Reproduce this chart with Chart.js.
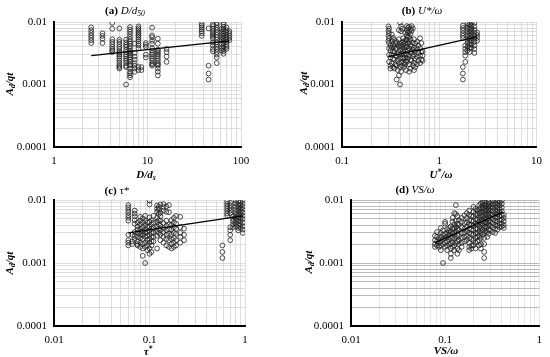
<!DOCTYPE html>
<html>
<head>
<meta charset="utf-8">
<script src="https://cdn.jsdelivr.net/npm/chart.js@4.4.0/dist/chart.umd.min.js"></script>
<style>
  body { margin: 0; background: #fff; width: 550px; height: 357px; position: relative; overflow: hidden; font-family: 'Liberation Serif', serif; }
  canvas { position: absolute; }
  .lbl { position: absolute; transform: translate(-50%, -50%); white-space: nowrap; font-size: 11px; color: #000; line-height: 1; }
  .ylbl { transform: translate(-50%, -50%) rotate(-90deg); font-weight: bold; font-style: italic; }
  .xlbl { font-weight: bold; font-style: italic; }
  sub { font-size: 70%; vertical-align: -2px; line-height: 0; }
  sup { font-size: 70%; vertical-align: 4px; line-height: 0; }
</style>
</head>
<body>
<canvas id="ca" width="275" height="178" style="left:0;top:0"></canvas>
<canvas id="cb" width="275" height="178" style="left:275px;top:0"></canvas>
<canvas id="cc" width="275" height="179" style="left:0;top:178px"></canvas>
<canvas id="cd" width="275" height="179" style="left:275px;top:178px"></canvas>

<div class="lbl" style="left:125px;top:10px"><b>(a)</b> <i>D/d<sub>50</sub></i></div>
<div class="lbl" style="left:422px;top:10px"><b>(b)</b> <i>U*/ω</i></div>
<div class="lbl" style="left:117px;top:190px"><b>(c)</b> τ*</div>
<div class="lbl" style="left:415px;top:189px"><b>(d)</b> <i>VS/ω</i></div>

<div class="lbl xlbl" style="left:146px;top:174px">D/d<sub>s</sub></div>
<div class="lbl xlbl" style="left:441px;top:174px">U<sup>*</sup>/ω</div>
<div class="lbl xlbl" style="left:148px;top:351px">τ<sup>*</sup></div>
<div class="lbl xlbl" style="left:446px;top:350px">VS/ω</div>

<div class="lbl ylbl" style="left:9px;top:84px">A<sub>d</sub>/qt</div>
<div class="lbl ylbl" style="left:303px;top:83px">A<sub>d</sub>/qt</div>
<div class="lbl ylbl" style="left:9px;top:263px">A<sub>d</sub>/qt</div>
<div class="lbl ylbl" style="left:308px;top:262px">A<sub>d</sub>/qt</div>

<script>
'use strict';

// labelled decades on each axis
const ticksY = [0.0001, 0.001, 0.01];
const ticksXa = [1, 10, 100];
const ticksXb = [0.1, 1, 10];
const ticksXc = [0.01, 0.1, 1];
const ticksXd = [0.01, 0.1, 1];

// columns of points: [x, [y, y, ...]]
const dataA = [
    [2.5, [0.0082, 0.0074, 0.0067, 0.0061, 0.0056, 0.0051, 0.0046]],
    [3.3, [0.0066, 0.006, 0.0054, 0.0046]],
    [4.2, [0.0097, 0.0078, 0.0053, 0.0048, 0.0044, 0.004, 0.0037, 0.0035, 0.0033]],
    [5.0, [0.0079, 0.0052, 0.0048, 0.0044, 0.004, 0.0037, 0.0034, 0.0032, 0.003, 0.0028, 0.0026, 0.0024, 0.0022, 0.002, 0.0019, 0.0018]],
    [5.9, [0.0052, 0.0047, 0.0043, 0.004, 0.0036, 0.0033, 0.003, 0.0028, 0.0026, 0.0024, 0.0022, 0.002, 0.0019, 0.001]],
    [6.5, [0.0083, 0.0076, 0.007, 0.0064, 0.0058, 0.0053, 0.0049, 0.0045, 0.0041, 0.0038, 0.0035, 0.0033, 0.0031, 0.0029, 0.0027, 0.0025, 0.0023, 0.0021, 0.002, 0.0018, 0.0016, 0.0015, 0.0014, 0.0013]],
    [7.3, [0.0045, 0.0032, 0.0028, 0.0025, 0.0022, 0.002, 0.0018, 0.0016]],
    [8.0, [0.0085, 0.0079, 0.0074, 0.0069, 0.0065, 0.0061, 0.0057, 0.0053, 0.0049, 0.0045, 0.0042, 0.0038, 0.0019, 0.0017]],
    [8.6, [0.0019, 0.0017]],
    [9.6, [0.0046, 0.0043, 0.004, 0.003, 0.0027]],
    [11.2, [0.0081, 0.0061, 0.0057, 0.005, 0.0045, 0.0038, 0.0035, 0.0032, 0.003, 0.0028, 0.0026, 0.0024, 0.0022, 0.0021, 0.002]],
    [12.9, [0.0054, 0.0045, 0.0036, 0.0034, 0.0032, 0.003, 0.0028, 0.0026, 0.0024, 0.0022, 0.0021, 0.002, 0.0018, 0.0016, 0.0014]],
    [16, [0.0037, 0.0033, 0.0028, 0.0023]],
    [38, [0.0094, 0.0088, 0.0082, 0.0076, 0.0071, 0.0066, 0.006]],
    [45, [0.0079, 0.002, 0.0015, 0.0012]],
    [50, [0.0092, 0.0086, 0.0078, 0.0071, 0.0066, 0.0062, 0.0058, 0.0054, 0.0047, 0.0042, 0.0037, 0.0034]],
    [55, [0.0096, 0.009, 0.0082, 0.0075, 0.0068, 0.0062, 0.0057, 0.0052, 0.0047, 0.0043, 0.004, 0.0037, 0.0033, 0.003, 0.0027, 0.0022]],
    [62, [0.0077, 0.0069, 0.0062, 0.0056, 0.0051, 0.0045, 0.0038, 0.0035]],
    [65, [0.0098, 0.0091, 0.0084, 0.0077, 0.0071, 0.0065, 0.006, 0.0055, 0.005, 0.0046, 0.0041, 0.0037, 0.0034, 0.0031]],
    [70, [0.0082, 0.0074, 0.0068, 0.0062, 0.0057, 0.0052, 0.0048, 0.0043, 0.004, 0.0037]],
    [75, [0.0071, 0.0066, 0.0061, 0.0056, 0.0051]]
];

const dataB = [
    [0.300, [0.0085, 0.0072, 0.006, 0.005]],
    [0.305, [0.0078, 0.0066, 0.0055, 0.0046, 0.0038, 0.003, 0.0023]],
    [0.315, [0.0042, 0.0035, 0.0027, 0.002, 0.0018]],
    [0.325, [0.0063, 0.005, 0.0039, 0.003, 0.0022]],
    [0.335, [0.0056, 0.0044, 0.0034, 0.0026, 0.0019]],
    [0.345, [0.0052, 0.0041, 0.0033, 0.0025, 0.0018]],
    [0.355, [0.0046, 0.0037, 0.0029, 0.0021]],
    [0.365, [0.0048, 0.0038, 0.0028, 0.002, 0.0012]],
    [0.375, [0.0043, 0.0032, 0.0024, 0.0017]],
    [0.385, [0.0074, 0.0053, 0.004, 0.003, 0.0022, 0.0014]],
    [0.395, [0.0098, 0.0045, 0.0035, 0.0026, 0.0019, 0.001]],
    [0.405, [0.0085, 0.0071, 0.0042, 0.0031, 0.0023, 0.0016]],
    [0.415, [0.0078, 0.0047, 0.0037, 0.0027, 0.002]],
    [0.425, [0.0055, 0.0044, 0.0034, 0.0026]],
    [0.435, [0.0049, 0.0039, 0.003, 0.0022, 0.0019]],
    [0.445, [0.0068, 0.0046, 0.0036, 0.0027, 0.0021]],
    [0.455, [0.0052, 0.004, 0.0031, 0.0024, 0.0017]],
    [0.465, [0.0086, 0.0074, 0.0062, 0.0051, 0.004, 0.003, 0.0023]],
    [0.475, [0.008, 0.0068, 0.0057, 0.0045, 0.0035, 0.0026]],
    [0.49, [0.0084, 0.007, 0.0058, 0.0048, 0.0038, 0.0029, 0.0021, 0.0016]],
    [0.505, [0.0077, 0.0064, 0.0053, 0.0043, 0.0033, 0.0025, 0.0018]],
    [0.52, [0.0086, 0.0072, 0.0041, 0.0032, 0.0024]],
    [0.535, [0.0079, 0.0047, 0.0036, 0.0028, 0.002]],
    [0.55, [0.0053, 0.0039, 0.003, 0.0022, 0.0017]],
    [0.565, [0.0045, 0.0034, 0.0026, 0.0019]],
    [0.59, [0.0048, 0.0037, 0.0028, 0.0021]],
    [0.61, [0.0042, 0.0032, 0.0024]],
    [0.635, [0.0055, 0.0038, 0.0029, 0.0022]],
    [0.655, [0.0046, 0.0033, 0.0025]],
    [0.675, [0.0034, 0.0029, 0.0024]],
    [1.75, [0.0088, 0.008, 0.0073, 0.0066, 0.006, 0.0055, 0.0019, 0.0015, 0.0012]],
    [1.85, [0.0042, 0.0037, 0.0033, 0.0029, 0.0023]],
    [1.95, [0.0095, 0.0086, 0.0078, 0.0071, 0.0064, 0.0058, 0.0052, 0.0046, 0.004, 0.0035]],
    [2.05, [0.0092, 0.0083, 0.0075, 0.0067, 0.006, 0.0054, 0.0048, 0.0043, 0.0038, 0.0033]],
    [2.15, [0.0098, 0.0088, 0.0079, 0.0071, 0.0063, 0.0056, 0.005, 0.0044, 0.0039]],
    [2.3, [0.0097, 0.0085, 0.0075, 0.0067, 0.006, 0.0054, 0.0048, 0.0042, 0.0037, 0.0032]],
    [2.45, [0.0068, 0.0062, 0.0056, 0.005]]
];

const dataC = [
    [0.060, [0.0083, 0.0076, 0.0069, 0.0063, 0.0057, 0.0052, 0.0047, 0.0028, 0.0023, 0.0021, 0.0019]],
    [0.066, [0.0028, 0.0022, 0.002]],
    [0.070, [0.0068, 0.0061, 0.0055, 0.0048, 0.0042, 0.0031, 0.0027, 0.0024]],
    [0.075, [0.0044, 0.0038, 0.0034, 0.003, 0.0026, 0.0022, 0.002, 0.0019]],
    [0.080, [0.0054, 0.0047, 0.0041, 0.0035, 0.0031, 0.0028, 0.0025, 0.0021, 0.0018]],
    [0.085, [0.0051, 0.0044, 0.0037, 0.0032, 0.0028, 0.0024, 0.002, 0.0017, 0.0013]],
    [0.090, [0.0056, 0.0047, 0.004, 0.0034, 0.003, 0.0026, 0.0021, 0.0018, 0.001]],
    [0.095, [0.0044, 0.0037, 0.0031, 0.0027, 0.0023, 0.0019, 0.0016]],
    [0.100, [0.0098, 0.0085, 0.0053, 0.0045, 0.0038, 0.0033, 0.0028, 0.0024, 0.0021, 0.0017, 0.0014]],
    [0.105, [0.0048, 0.0041, 0.0035, 0.003, 0.0026, 0.0022, 0.0019, 0.0015]],
    [0.110, [0.0056, 0.0044, 0.0036, 0.0031, 0.0026, 0.0022]],
    [0.120, [0.0082, 0.0073, 0.0065, 0.0052, 0.0045, 0.0038, 0.0032, 0.0027, 0.0017]],
    [0.125, [0.0078, 0.007, 0.006, 0.0048, 0.0041, 0.0035, 0.003]],
    [0.130, [0.0085, 0.0063, 0.0055, 0.0047, 0.0039, 0.0033, 0.0028, 0.0023]],
    [0.140, [0.0086, 0.0077, 0.0068, 0.0043, 0.0036, 0.0031, 0.0026, 0.0021]],
    [0.150, [0.0079, 0.0065, 0.0047, 0.0039, 0.0033, 0.0028, 0.0024, 0.0019]],
    [0.160, [0.0083, 0.0064, 0.0041, 0.0034, 0.0029, 0.0023, 0.0018]],
    [0.170, [0.0048, 0.004, 0.0034, 0.0028, 0.0024, 0.002, 0.0017]],
    [0.180, [0.0052, 0.0044, 0.0037, 0.003, 0.0025, 0.0021, 0.0018]],
    [0.190, [0.0056, 0.0042, 0.0035, 0.0029, 0.0023, 0.0019]],
    [0.210, [0.0054, 0.0037, 0.003, 0.0026, 0.0021]],
    [0.230, [0.0035, 0.0028, 0.0023]],
    [0.58, [0.0019, 0.0015, 0.0012]],
    [0.65, [0.0095, 0.0087, 0.008, 0.0073, 0.0067, 0.0061, 0.0056]],
    [0.70, [0.009, 0.0082, 0.0075, 0.0068, 0.0062, 0.0037, 0.0033, 0.0028, 0.0023]],
    [0.75, [0.0055, 0.005, 0.0046, 0.0041, 0.0037]],
    [0.80, [0.0098, 0.0088, 0.0079, 0.0071, 0.0064, 0.0058, 0.0052, 0.0047, 0.0042, 0.0038]],
    [0.85, [0.0095, 0.0085, 0.0076, 0.0068, 0.0061, 0.0055, 0.005, 0.0045, 0.004, 0.0036, 0.0033]],
    [0.90, [0.0093, 0.0082, 0.0073, 0.0065, 0.0058, 0.0052, 0.0046, 0.0041, 0.0036]],
    [0.95, [0.0097, 0.0087, 0.0078, 0.007, 0.0063, 0.0056, 0.005, 0.0044, 0.0038, 0.0034, 0.003]]
];

const dataD = [
    [0.078, [0.0027, 0.0023, 0.002, 0.0018]],
    [0.082, [0.0031, 0.0026, 0.0022, 0.0019]],
    [0.086, [0.0024, 0.0021, 0.0018]],
    [0.090, [0.0036, 0.003, 0.0026, 0.0022, 0.0019, 0.0016]],
    [0.095, [0.0033, 0.0028, 0.0024, 0.002, 0.001]],
    [0.100, [0.0045, 0.0042, 0.0029, 0.0025, 0.0021, 0.0018]],
    [0.105, [0.0034, 0.003, 0.0026, 0.0022, 0.0019, 0.0016]],
    [0.110, [0.0036, 0.0032, 0.0028, 0.0024, 0.002]],
    [0.115, [0.0038, 0.0031, 0.0025, 0.002, 0.0017, 0.0014, 0.0012]],
    [0.120, [0.0052, 0.0045, 0.0035, 0.003, 0.0025, 0.0021, 0.0018]],
    [0.125, [0.0062, 0.0041, 0.0036, 0.003, 0.0024, 0.0019, 0.0016]],
    [0.130, [0.0083, 0.006, 0.0047, 0.0038, 0.0032, 0.0026, 0.0021]],
    [0.135, [0.0055, 0.0042, 0.0035, 0.0028, 0.0022, 0.0017, 0.0014]],
    [0.140, [0.0048, 0.004, 0.0033, 0.0027, 0.0023, 0.002, 0.0016]],
    [0.150, [0.0052, 0.0045, 0.0037, 0.003, 0.0025, 0.0021, 0.0018]],
    [0.160, [0.0057, 0.0043, 0.0035, 0.003, 0.0026, 0.0022]],
    [0.170, [0.0062, 0.0052, 0.0044, 0.0038, 0.0032, 0.0027, 0.0023]],
    [0.180, [0.0068, 0.0058, 0.0048, 0.0041, 0.0035, 0.003, 0.0025, 0.0021, 0.0018, 0.0016]],
    [0.190, [0.0056, 0.0047, 0.004, 0.0034, 0.0029, 0.0024, 0.0019, 0.0017]],
    [0.200, [0.0078, 0.0065, 0.0055, 0.0046, 0.0039, 0.0033, 0.0028, 0.0023, 0.0019]],
    [0.210, [0.0072, 0.006, 0.005, 0.0042, 0.0035, 0.003, 0.0025, 0.0021, 0.0017]],
    [0.220, [0.0068, 0.0058, 0.0049, 0.0041, 0.0035, 0.003, 0.0026, 0.0022]],
    [0.230, [0.0082, 0.0071, 0.0062, 0.0053, 0.0045, 0.0038, 0.0032, 0.0027, 0.0023, 0.0019]],
    [0.240, [0.0088, 0.0076, 0.0066, 0.0057, 0.0049, 0.0042, 0.0036, 0.003, 0.0025, 0.002, 0.0017]],
    [0.250, [0.0092, 0.0082, 0.0072, 0.0063, 0.0054, 0.0046, 0.0039, 0.0033, 0.0028]],
    [0.260, [0.0096, 0.0085, 0.0075, 0.0066, 0.0058, 0.005, 0.0043, 0.0036, 0.003, 0.0025, 0.002, 0.0015, 0.0012]],
    [0.270, [0.009, 0.008, 0.007, 0.0061, 0.0053, 0.0045, 0.0038, 0.0032]],
    [0.280, [0.0086, 0.0076, 0.0067, 0.0058, 0.005, 0.0043, 0.0037, 0.0031, 0.0026]],
    [0.290, [0.0093, 0.0082, 0.0072, 0.0063, 0.0055, 0.0047, 0.004, 0.0034, 0.0029]],
    [0.300, [0.0088, 0.0078, 0.0069, 0.006, 0.0052, 0.0045, 0.0039, 0.0033]],
    [0.320, [0.0095, 0.0085, 0.0075, 0.0066, 0.0058, 0.005, 0.0043, 0.0037, 0.0031]],
    [0.340, [0.0099, 0.0089, 0.0079, 0.007, 0.0062, 0.0054, 0.0047, 0.004, 0.0035, 0.003]],
    [0.360, [0.0096, 0.0086, 0.0076, 0.0067, 0.0059, 0.0052, 0.0045, 0.0039, 0.0034]],
    [0.380, [0.0092, 0.0082, 0.0072, 0.0063, 0.0055, 0.0048, 0.0042, 0.0037]],
    [0.400, [0.0098, 0.0087, 0.0076, 0.0066, 0.0057, 0.0049, 0.0042, 0.0038]],
    [0.420, [0.0058, 0.0052, 0.0046, 0.004, 0.0036]]
];

// power-law trend lines, end points [x, y]
const trendA = [[2.5, 0.0029], [75, 0.0050]];
const trendB = [[0.30, 0.0028], [2.45, 0.0058]];
const trendC = [[0.06, 0.0030], [0.95, 0.0056]];
const trendD = [[0.079, 0.0021], [0.41, 0.0065]];

const FONT = "'Liberation Serif', 'Times New Roman', serif";

function toPoints(cols) {
    const pts = [];
    cols.forEach(c => c[1].forEach(y => pts.push({ x: c[0], y: y })));
    return pts;
}

// gridlines at 1..9 x each decade, labels only on the decades
function gridValues(decades) {
    const vals = [];
    for (let i = 0; i < decades.length - 1; i++) {
        for (let k = 1; k < 10; k++) vals.push(+(decades[i] * k).toPrecision(3));
    }
    vals.push(decades[decades.length - 1]);
    return vals;
}

function isDecade(v, decades) {
    return decades.some(d => Math.abs(d - v) < d * 1e-6);
}

function logAxis(decades, gridColor, size, pad) {
    const vals = gridValues(decades);
    return {
        type: 'logarithmic',
        min: decades[0],
        max: decades[decades.length - 1],
        afterBuildTicks: (scale) => { scale.ticks = vals.map(v => ({ value: v })); },
        afterFit: (scale) => {
            if (scale.isHorizontal()) scale.height = size; else scale.width = size;
        },
        ticks: {
            autoSkip: false,
            maxRotation: 0,
            padding: pad,
            color: '#000',
            font: { family: FONT, size: 11 },
            callback: (v) => isDecade(v, decades) ? String(v) : ''
        },
        grid: { color: gridColor, lineWidth: 0.8, drawTicks: false },
        border: { color: '#000', width: 2 }
    };
}

// box = canvas origin, area = [left, right, top, bottom] of the plot on the page
function panel(id, box, area, cols, trend, ticksX, gridX, gridY) {
    const xh = 18;
    new Chart(document.getElementById(id), {
        type: 'scatter',
        data: {
            datasets: [
                {
                    data: trend.map(p => ({ x: p[0], y: p[1] })),
                    showLine: true,
                    pointRadius: 0,
                    borderColor: '#000',
                    borderWidth: 1.3
                },
                {
                    data: toPoints(cols),
                    pointRadius: 2.4,
                    borderWidth: 0.8,
                    borderColor: '#222',
                    backgroundColor: 'rgba(0,0,0,0)'
                }
            ]
        },
        options: {
            responsive: false,
            animation: false,
            layout: {
                padding: {
                    left: 0,
                    right: box[0] + 275 - area[1],
                    top: area[2] - box[1],
                    bottom: box[1] + box[2] - area[3] - xh
                }
            },
            plugins: { legend: { display: false }, tooltip: { enabled: false } },
            scales: {
                x: logAxis(ticksX, gridX, xh, 8),
                y: logAxis(ticksY, gridY, area[0] - box[0], 7)
            }
        }
    });
}

panel('ca', [0, 0, 178], [54, 241, 22, 147], dataA, trendA, ticksXa, '#d6d6d6', '#d6d6d6');
panel('cb', [275, 0, 178], [342, 539, 22, 147], dataB, trendB, ticksXb, '#d6d6d6', '#d6d6d6');
panel('cc', [0, 178, 179], [54, 245, 200, 326], dataC, trendC, ticksXc, '#d6d6d6', '#d6d6d6');
panel('cd', [275, 178, 179], [351, 542, 200, 326], dataD, trendD, ticksXd, '#e2e2e2', '#a8a8a8');
</script>
</body>
</html>
